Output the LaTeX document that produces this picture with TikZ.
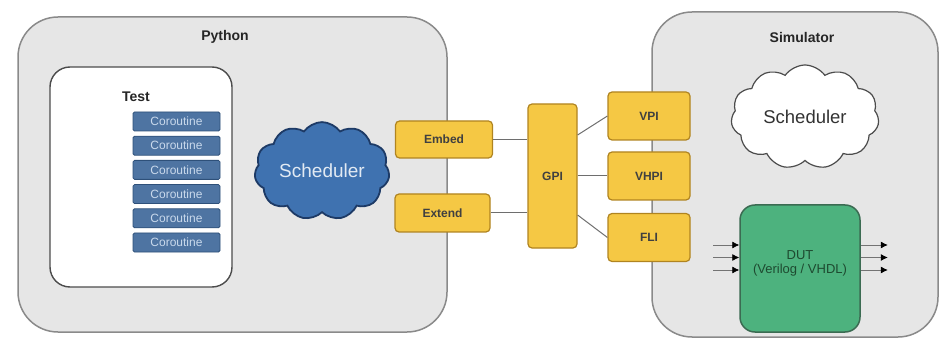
\documentclass[tikz,border=0pt]{standalone}
\usepackage{fontspec}
\setmainfont{Liberation Sans}
\usetikzlibrary{shapes.symbols,arrows.meta,calc}
\definecolor{panelfill}{HTML}{E6E6E6}
\definecolor{paneldraw}{HTML}{8A8A8A}
\definecolor{ifacefill}{HTML}{F5C844}
\definecolor{ifacedraw}{HTML}{B08420}
\definecolor{corofill}{HTML}{4E74A2}
\definecolor{corodraw}{HTML}{2E5079}
\definecolor{corotext}{HTML}{C9D9EC}
\definecolor{cloudfill}{HTML}{3F72B0}
\definecolor{clouddraw}{HTML}{1D3A66}
\definecolor{dutfill}{HTML}{4DB27E}
\definecolor{dutdraw}{HTML}{3B6B52}
\definecolor{duttext}{HTML}{1E4A30}
\definecolor{linkgray}{HTML}{6E6E6E}
\tikzset{
  panel/.style={draw=paneldraw, fill=panelfill, line width=1.5pt, rounded corners=40pt},
  testbox/.style={draw=black!70, fill=white, line width=1.4pt, rounded corners=20pt,
    minimum width=182pt, minimum height=220pt},
  coro/.style={draw=corodraw, fill=corofill, rounded corners=1.5pt, line width=0.8pt,
    minimum width=87pt, minimum height=19pt, inner sep=0pt,
    font=\fontsize{12}{13}\selectfont, text=corotext},
  iface/.style={draw=ifacedraw, fill=ifacefill, rounded corners=4pt, line width=1.2pt,
    inner sep=0pt, font=\bfseries\fontsize{12}{13}\selectfont, text=black!75},
  link/.style={draw=linkgray, line width=1pt},
  title/.style={font=\bfseries\fontsize{14}{16}\selectfont, text=black!85},
  pin/.style={draw=black!55, line width=0.7pt, -{Latex[length=7pt,width=7pt,fill=black,color=black]}}
}
\begin{document}
\begin{tikzpicture}[x=1pt,y=-1pt]
\useasboundingbox (0,0) rectangle (945,339);

% Python side
\node[panel, minimum width=429pt, minimum height=315pt] (python) at (232.5,174.5) {};
\node[title] (pylabel) at (225,37) {Python};
\node[testbox] (test) at (141,177) {};
\node[title] (testlabel) at (136,97) {Test};
\foreach \i in {0,...,5}{
  \node[coro] (co\i) at (176.5,{121.5+24.2*\i}) {Coroutine};
}
\node[cloud, cloud puffs=11, cloud puff arc=110, aspect=1.45, draw=clouddraw, fill=cloudfill,
  line width=1.8pt, minimum width=135pt, minimum height=97pt, inner sep=0pt,
  font=\fontsize{19}{21}\selectfont, text=white!85!cloudfill] (pysched) at (322,171) {Scheduler};

% Simulator side
\node[panel, minimum width=286pt, minimum height=325pt] (sim) at (795,174.5) {};
\node[title] (simlabel) at (802,37) {Simulator};
\node[cloud, cloud puffs=11, cloud puff arc=110, aspect=1.45, draw=black!70, fill=white,
  line width=1.2pt, minimum width=148pt, minimum height=104pt, inner sep=0pt,
  font=\fontsize{18.5}{20}\selectfont, text=black!80] (simsched) at (805,117) {Scheduler};
\node[draw=dutdraw, fill=dutfill, line width=1.5pt, rounded corners=15pt,
  minimum width=120pt, minimum height=127pt] (dut) at (800,268.5) {};
\node[align=center, font=\fontsize{13}{14}\selectfont, text=duttext] (dutlabel)
  at ($(dut.center)+(0,-5)$) {DUT\\(Verilog / VHDL)};

% Interface layers
\node[iface, minimum width=97pt, minimum height=37pt] (embed) at (444,139.5) {Embed};
\node[iface, minimum width=95pt, minimum height=38pt] (extend) at (442.5,213) {Extend};
\node[iface, minimum width=49pt, minimum height=144pt] (gpi) at (552.5,176) {GPI};
\node[iface, minimum width=82pt, minimum height=48pt] (vpi) at (649,116) {VPI};
\node[iface, minimum width=82pt, minimum height=48pt] (vhpi) at (649,176) {VHPI};
\node[iface, minimum width=82pt, minimum height=48pt] (fli) at (649,237.5) {FLI};

% Connections between layers
\draw[link] (embed.east) -- (embed.east -| gpi.west);
\draw[link] (extend.east) -- (extend.east -| gpi.west);
\draw[link] ($(gpi.east)+(0,-41)$) -- (vpi.west);
\draw[link] (gpi.east) -- (vhpi.west);
\draw[link] ($(gpi.east)+(0,39)$) -- (fli.west);

% DUT ports
\foreach \k/\yy in {a/-12.5,b/0,c/12.5}{
  \coordinate (in\k) at ($(dut.west)+(-26,\yy-11)$);
  \coordinate (out\k) at ($(dut.east)+(27,\yy-11)$);
  \draw[pin] (in\k) -- (in\k -| dut.west);
  \draw[pin] (out\k -| dut.east) -- (out\k);
}
\end{tikzpicture}
\end{document}
